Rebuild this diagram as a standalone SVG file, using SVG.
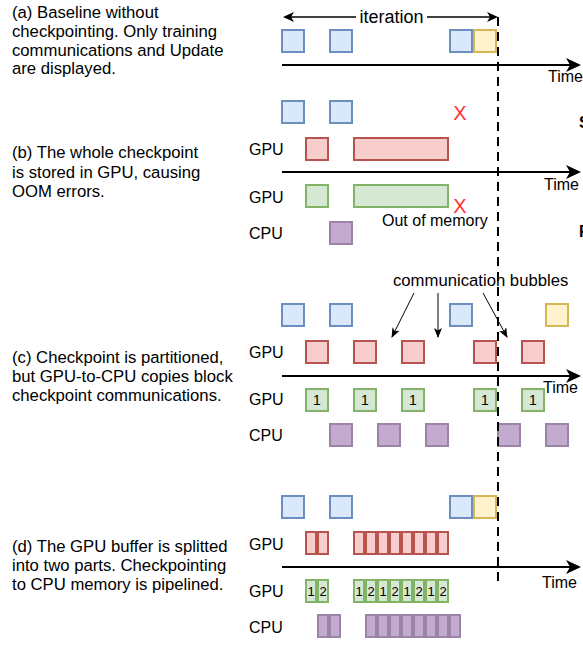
<svg xmlns="http://www.w3.org/2000/svg" width="583" height="648" viewBox="0 0 583 648">
<defs>
<style>
text{font-family:"Liberation Sans",Arial,sans-serif;fill:#000}
.desc{font-size:16.7px}
.lbl{font-size:16px}
.dig{font-size:14px;text-anchor:middle}
.dig2{font-size:13px;text-anchor:middle}
.x{font-size:20px;fill:#ff3333;text-anchor:middle}
rect{stroke-width:2}
.blue{fill:#dae8fc;stroke:#6c8ebf}
.yellow{fill:#fff2cc;stroke:#d6b656}
.red{fill:#f8cecc;stroke:#b85450}
.green{fill:#d5e8d4;stroke:#82b366}
.purple{fill:#c3abd0;stroke:#9c84a8}
.axis{stroke:#000;stroke-width:2;fill:none;marker-end:url(#big)}
.thin{stroke:#000;stroke-width:1;fill:none;marker-end:url(#small)}
</style>
<marker id="big" markerUnits="userSpaceOnUse" markerWidth="16" markerHeight="16" refX="12" refY="7" orient="auto"><path d="M0,0 L15,7 L0,14 L4,7 Z" fill="#000"/></marker>
<marker id="mid" markerUnits="userSpaceOnUse" markerWidth="12" markerHeight="12" refX="9" refY="5" orient="auto-start-reverse"><path d="M0,0 L11,5 L0,10 L3,5 Z" fill="#000"/></marker>
<marker id="small" markerUnits="userSpaceOnUse" markerWidth="12" markerHeight="10" refX="9" refY="4" orient="auto"><path d="M0,0 L10,4 L0,8 L2.5,4 Z" fill="#000"/></marker>
</defs>
<rect x="0" y="0" width="583" height="648" fill="#fff" stroke="none"/>

<!-- descriptions -->
<g id="desc-a"><text class="desc" x="12" y="18">(a) Baseline without</text><text class="desc" x="12" y="37">checkpointing. Only training</text><text class="desc" x="12" y="55.5">communications and Update</text><text class="desc" x="12" y="74">are displayed.</text></g>
<g id="desc-b"><text class="desc" x="12" y="158">(b) The whole checkpoint</text><text class="desc" x="12" y="177.5">is stored in GPU, causing</text><text class="desc" x="12" y="197">OOM errors.</text></g>
<g id="desc-c"><text class="desc" x="12" y="363">(c) Checkpoint is partitioned,</text><text class="desc" x="12" y="382">but GPU-to-CPU copies block</text><text class="desc" x="12" y="401">checkpoint communications.</text></g>
<g id="desc-d"><text class="desc" x="12" y="552">(d) The GPU buffer is splitted</text><text class="desc" x="12" y="571">into two parts. Checkpointing</text><text class="desc" x="12" y="590">to CPU memory is pipelined.</text></g>

<!-- row labels -->
<g id="labels">
<text class="lbl" x="249" y="155">GPU</text><text class="lbl" x="249" y="203">GPU</text><text class="lbl" x="249" y="239">CPU</text>
<text class="lbl" x="249" y="358">GPU</text><text class="lbl" x="249" y="405">GPU</text><text class="lbl" x="249" y="441">CPU</text>
<text class="lbl" x="249" y="550">GPU</text><text class="lbl" x="249" y="597">GPU</text><text class="lbl" x="249" y="633">CPU</text>
<text class="lbl" x="548" y="82">Time</text>
<text class="lbl" x="544" y="190">Time</text>
<text class="lbl" x="382" y="226">Out of memory</text>
<text class="desc" x="393" y="286">communication bubbles</text>
<text class="lbl" x="579" y="128" font-weight="bold">S</text>
<text class="lbl" x="579" y="237" font-weight="bold">F</text>
<text class="x" x="460" y="120">X</text>
<text class="x" x="460" y="213">X</text>
</g>

<!-- (a) -->
<g id="a-blue1"><rect class="blue" x="282" y="30" width="22" height="22"/></g>
<g id="a-blue2"><rect class="blue" x="330" y="30" width="22" height="22"/></g>
<g id="a-blue3"><rect class="blue" x="450" y="30" width="22" height="22"/></g>
<g id="a-update"><rect class="yellow" x="474" y="30" width="22" height="22"/></g>

<!-- (b) -->
<g id="b-blue1"><rect class="blue" x="282" y="101" width="22" height="22"/></g>
<g id="b-blue2"><rect class="blue" x="330" y="101" width="22" height="22"/></g>
<g id="b-red1"><rect class="red" x="306" y="138" width="22" height="22"/></g>
<g id="b-red2"><rect class="red" x="354" y="138" width="94" height="22"/></g>
<g id="b-green1"><rect class="green" x="306" y="185" width="22" height="22"/></g>
<g id="b-green2"><rect class="green" x="354" y="185" width="94" height="22"/></g>
<g id="b-cpu1"><rect class="purple" x="330" y="222" width="22" height="22"/></g>

<!-- (c) -->
<g id="c-blue1"><rect class="blue" x="282" y="304" width="22" height="22"/></g>
<g id="c-blue2"><rect class="blue" x="330" y="304" width="22" height="22"/></g>
<g id="c-blue3"><rect class="blue" x="450" y="304" width="22" height="22"/></g>
<g id="c-update"><rect class="yellow" x="546" y="304" width="22" height="22"/></g>
<g id="c-red1"><rect class="red" x="306" y="341" width="22" height="22"/></g>
<g id="c-red2"><rect class="red" x="354" y="341" width="22" height="22"/></g>
<g id="c-red3"><rect class="red" x="402" y="341" width="22" height="22"/></g>
<g id="c-red4"><rect class="red" x="474" y="341" width="22" height="22"/></g>
<g id="c-red5"><rect class="red" x="522" y="341" width="22" height="22"/></g>
<g id="c-green1"><rect class="green" x="306" y="389" width="22" height="22"/><text class="dig" x="317" y="405">1</text></g>
<g id="c-green2"><rect class="green" x="354" y="389" width="22" height="22"/><text class="dig" x="365" y="405">1</text></g>
<g id="c-green3"><rect class="green" x="402" y="389" width="22" height="22"/><text class="dig" x="413" y="405">1</text></g>
<g id="c-green4"><rect class="green" x="474" y="389" width="22" height="22"/><text class="dig" x="485" y="405">1</text></g>
<g id="c-green5"><rect class="green" x="522" y="389" width="22" height="22"/><text class="dig" x="533" y="405">1</text></g>
<g id="c-cpu1"><rect class="purple" x="330" y="424" width="22" height="22"/></g>
<g id="c-cpu2"><rect class="purple" x="378" y="424" width="22" height="22"/></g>
<g id="c-cpu3"><rect class="purple" x="426" y="424" width="22" height="22"/></g>
<g id="c-cpu4"><rect class="purple" x="498" y="424" width="22" height="22"/></g>
<g id="c-cpu5"><rect class="purple" x="546" y="424" width="22" height="22"/></g>
<text class="lbl" x="543" y="393">Time</text>

<!-- (d) -->
<g id="d-blue1"><rect class="blue" x="282" y="496" width="22" height="22"/></g>
<g id="d-blue2"><rect class="blue" x="330" y="496" width="22" height="22"/></g>
<g id="d-blue3"><rect class="blue" x="450" y="496" width="22" height="22"/></g>
<g id="d-update"><rect class="yellow" x="474" y="496" width="22" height="22"/></g>
<g id="d-red1">
<rect class="red" x="306" y="532" width="10" height="22"/><rect class="red" x="318" y="532" width="10" height="22"/>
</g>
<g id="d-red2">
<rect class="red" x="354" y="532" width="10" height="22"/><rect class="red" x="366" y="532" width="10" height="22"/><rect class="red" x="378" y="532" width="10" height="22"/><rect class="red" x="390" y="532" width="10" height="22"/><rect class="red" x="402" y="532" width="10" height="22"/><rect class="red" x="414" y="532" width="10" height="22"/><rect class="red" x="426" y="532" width="10" height="22"/><rect class="red" x="438" y="532" width="10" height="22"/>
</g>
<g id="d-green1">
<rect class="green" x="306" y="580" width="10" height="22"/><rect class="green" x="318" y="580" width="10" height="22"/>
<text class="dig2" x="311" y="596">1</text><text class="dig2" x="323" y="596">2</text>
</g>
<g id="d-green2">
<rect class="green" x="354" y="580" width="10" height="22"/><rect class="green" x="366" y="580" width="10" height="22"/><rect class="green" x="378" y="580" width="10" height="22"/><rect class="green" x="390" y="580" width="10" height="22"/><rect class="green" x="402" y="580" width="10" height="22"/><rect class="green" x="414" y="580" width="10" height="22"/><rect class="green" x="426" y="580" width="10" height="22"/><rect class="green" x="438" y="580" width="10" height="22"/>
<text class="dig2" x="359" y="596">1</text><text class="dig2" x="371" y="596">2</text><text class="dig2" x="383" y="596">1</text><text class="dig2" x="395" y="596">2</text><text class="dig2" x="407" y="596">1</text><text class="dig2" x="419" y="596">2</text><text class="dig2" x="431" y="596">1</text><text class="dig2" x="443" y="596">2</text>
</g>
<g id="d-cpu1">
<rect class="purple" x="318" y="615" width="10" height="22"/><rect class="purple" x="330" y="615" width="10" height="22"/>
</g>
<g id="d-cpu2">
<rect class="purple" x="366" y="615" width="10" height="22"/><rect class="purple" x="378" y="615" width="10" height="22"/><rect class="purple" x="390" y="615" width="10" height="22"/><rect class="purple" x="402" y="615" width="10" height="22"/><rect class="purple" x="414" y="615" width="10" height="22"/><rect class="purple" x="426" y="615" width="10" height="22"/><rect class="purple" x="438" y="615" width="10" height="22"/><rect class="purple" x="450" y="615" width="10" height="22"/>
</g>
<text class="lbl" x="542" y="588">Time</text>

<!-- connectors -->
<g id="connectors">
<line class="axis" x1="282" y1="65" x2="578" y2="65"/>
<line class="axis" x1="282" y1="172" x2="578" y2="172"/>
<line class="axis" x1="282" y1="376" x2="578" y2="376"/>
<line class="axis" x1="282" y1="567" x2="578" y2="567"/>
<line x1="285" y1="17" x2="496" y2="17" stroke="#000" stroke-width="1.5" marker-start="url(#mid)" marker-end="url(#mid)"/>
<rect x="356" y="5" width="71" height="22" fill="#fff" stroke="none"/>
<text x="391.5" y="23" font-size="18" text-anchor="middle">iteration</text>
<line class="thin" x1="414" y1="293" x2="392" y2="337"/>
<line class="thin" x1="438" y1="293" x2="438" y2="337"/>
<line class="thin" x1="483" y1="293" x2="507" y2="337"/>
<line x1="498" y1="17" x2="498" y2="585" stroke="#000" stroke-width="2" stroke-dasharray="9 6"/>
</g>
</svg>
